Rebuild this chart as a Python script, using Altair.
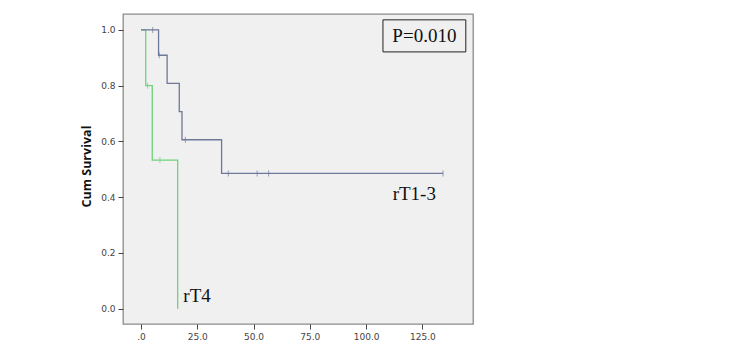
import altair as alt
import pandas as pd

# Kaplan-Meier step data
t4_time = [0, 2.1, 5.0, 16.3]
t4_surv = [1.0, 0.8, 0.533, 0.0]
t13_time = [0, 7.8, 11.6, 17.0, 18.2, 35.8, 134.2]
t13_surv = [1.0, 0.909, 0.808, 0.707, 0.606, 0.485, 0.485]

# censored observations
t4_cens_time = [2.9, 8.4]
t4_cens_surv = [0.8, 0.533]
t13_cens_time = [5.2, 8.1, 19.7, 38.8, 51.6, 56.7, 134.2]
t13_cens_surv = [1.0, 0.909, 0.606, 0.485, 0.485, 0.485, 0.485]

groups = ["rT4", "rT1-3"]
colors = ["#6fd27c", "#6f779b"]

x_ticks = [0, 25, 50, 75, 100, 125]
y_ticks = [0.0, 0.2, 0.4, 0.6, 0.8, 1.0]

lines = pd.DataFrame(
    {"time": t4_time + t13_time,
     "surv": t4_surv + t13_surv,
     "group": ["rT4"] * len(t4_time) + ["rT1-3"] * len(t13_time)}
)
cens = pd.DataFrame(
    {"time": t4_cens_time + t13_cens_time,
     "surv": t4_cens_surv + t13_cens_surv,
     "group": ["rT4"] * len(t4_cens_time) + ["rT1-3"] * len(t13_cens_time)}
)

xscale = alt.Scale(domain=[-8, 147.5], nice=False, zero=False)
yscale = alt.Scale(domain=[-0.055, 1.057], nice=False, zero=False)
cscale = alt.Scale(domain=groups, range=colors)

xaxis = alt.Axis(values=x_ticks, title=None, domain=False, grid=False,
                 labelExpr="datum.value == 0 ? '.0' : format(datum.value, '.1f')",
                 tickSize=5, tickColor="#444", labelColor="#444",
                 labelFont="DejaVu Sans", labelFontSize=9, labelPadding=3)
yaxis = alt.Axis(values=y_ticks, format=".1f", title="Cum Survival", domain=False,
                 grid=False, tickSize=5, tickColor="#444", labelColor="#444",
                 labelFont="DejaVu Sans", labelFontSize=9, labelPadding=3,
                 titleFont="Open Sans", titleFontSize=12.5, titleFontWeight="bold",
                 titleColor="#111", titleX=-30, titleY=152, titleAngle=-90)

base_line = alt.Chart(lines).mark_line(interpolate="step-after", strokeWidth=1.3).encode(
    x=alt.X("time:Q", scale=xscale, axis=xaxis),
    y=alt.Y("surv:Q", scale=yscale, axis=yaxis),
    color=alt.Color("group:N", scale=cscale, legend=None),
    detail="group:N",
)

ticks = alt.Chart(cens).mark_tick(orient="vertical", size=6, thickness=1).encode(
    x=alt.X("time:Q", scale=xscale),
    y=alt.Y("surv:Q", scale=yscale),
    color=alt.Color("group:N", scale=cscale, legend=None),
)

# annotations
pbox = pd.DataFrame({"x": [107.5], "x2": [144.3], "y": [1.036], "y2": [0.921]})
box = alt.Chart(pbox).mark_rect(fill="#f0f0f0", stroke="#222", strokeWidth=1).encode(
    x=alt.X("x:Q", scale=xscale), x2="x2:Q",
    y=alt.Y("y:Q", scale=yscale), y2="y2:Q",
)
ptext = alt.Chart(pd.DataFrame({"x": [125.9], "y": [0.979], "t": ["P=0.010"]})).mark_text(
    font="Liberation Serif", fontSize=19, color="#111", align="center", baseline="middle"
).encode(x=alt.X("x:Q", scale=xscale), y=alt.Y("y:Q", scale=yscale), text="t:N")

labels = pd.DataFrame({"x": [111.8, 18.8], "y": [0.41, 0.045], "t": ["rT1-3", "rT4"]})
ltext = alt.Chart(labels).mark_text(
    font="Liberation Serif", fontSize=19, color="#111", align="left", baseline="middle"
).encode(x=alt.X("x:Q", scale=xscale), y=alt.Y("y:Q", scale=yscale), text="t:N")

chart = alt.layer(box, base_line, ticks, ptext, ltext).properties(
    width=350, height=310,
    autosize=alt.AutoSizeParams(type="none"),
    padding={"left": 123, "top": 14, "right": 277, "bottom": 20},
    background="white",
).configure_view(fill="#f0f0f0", stroke="#8a8a8a", strokeWidth=1.3)

chart.save("out.html", embed_options={"renderer": "svg", "actions": False})
